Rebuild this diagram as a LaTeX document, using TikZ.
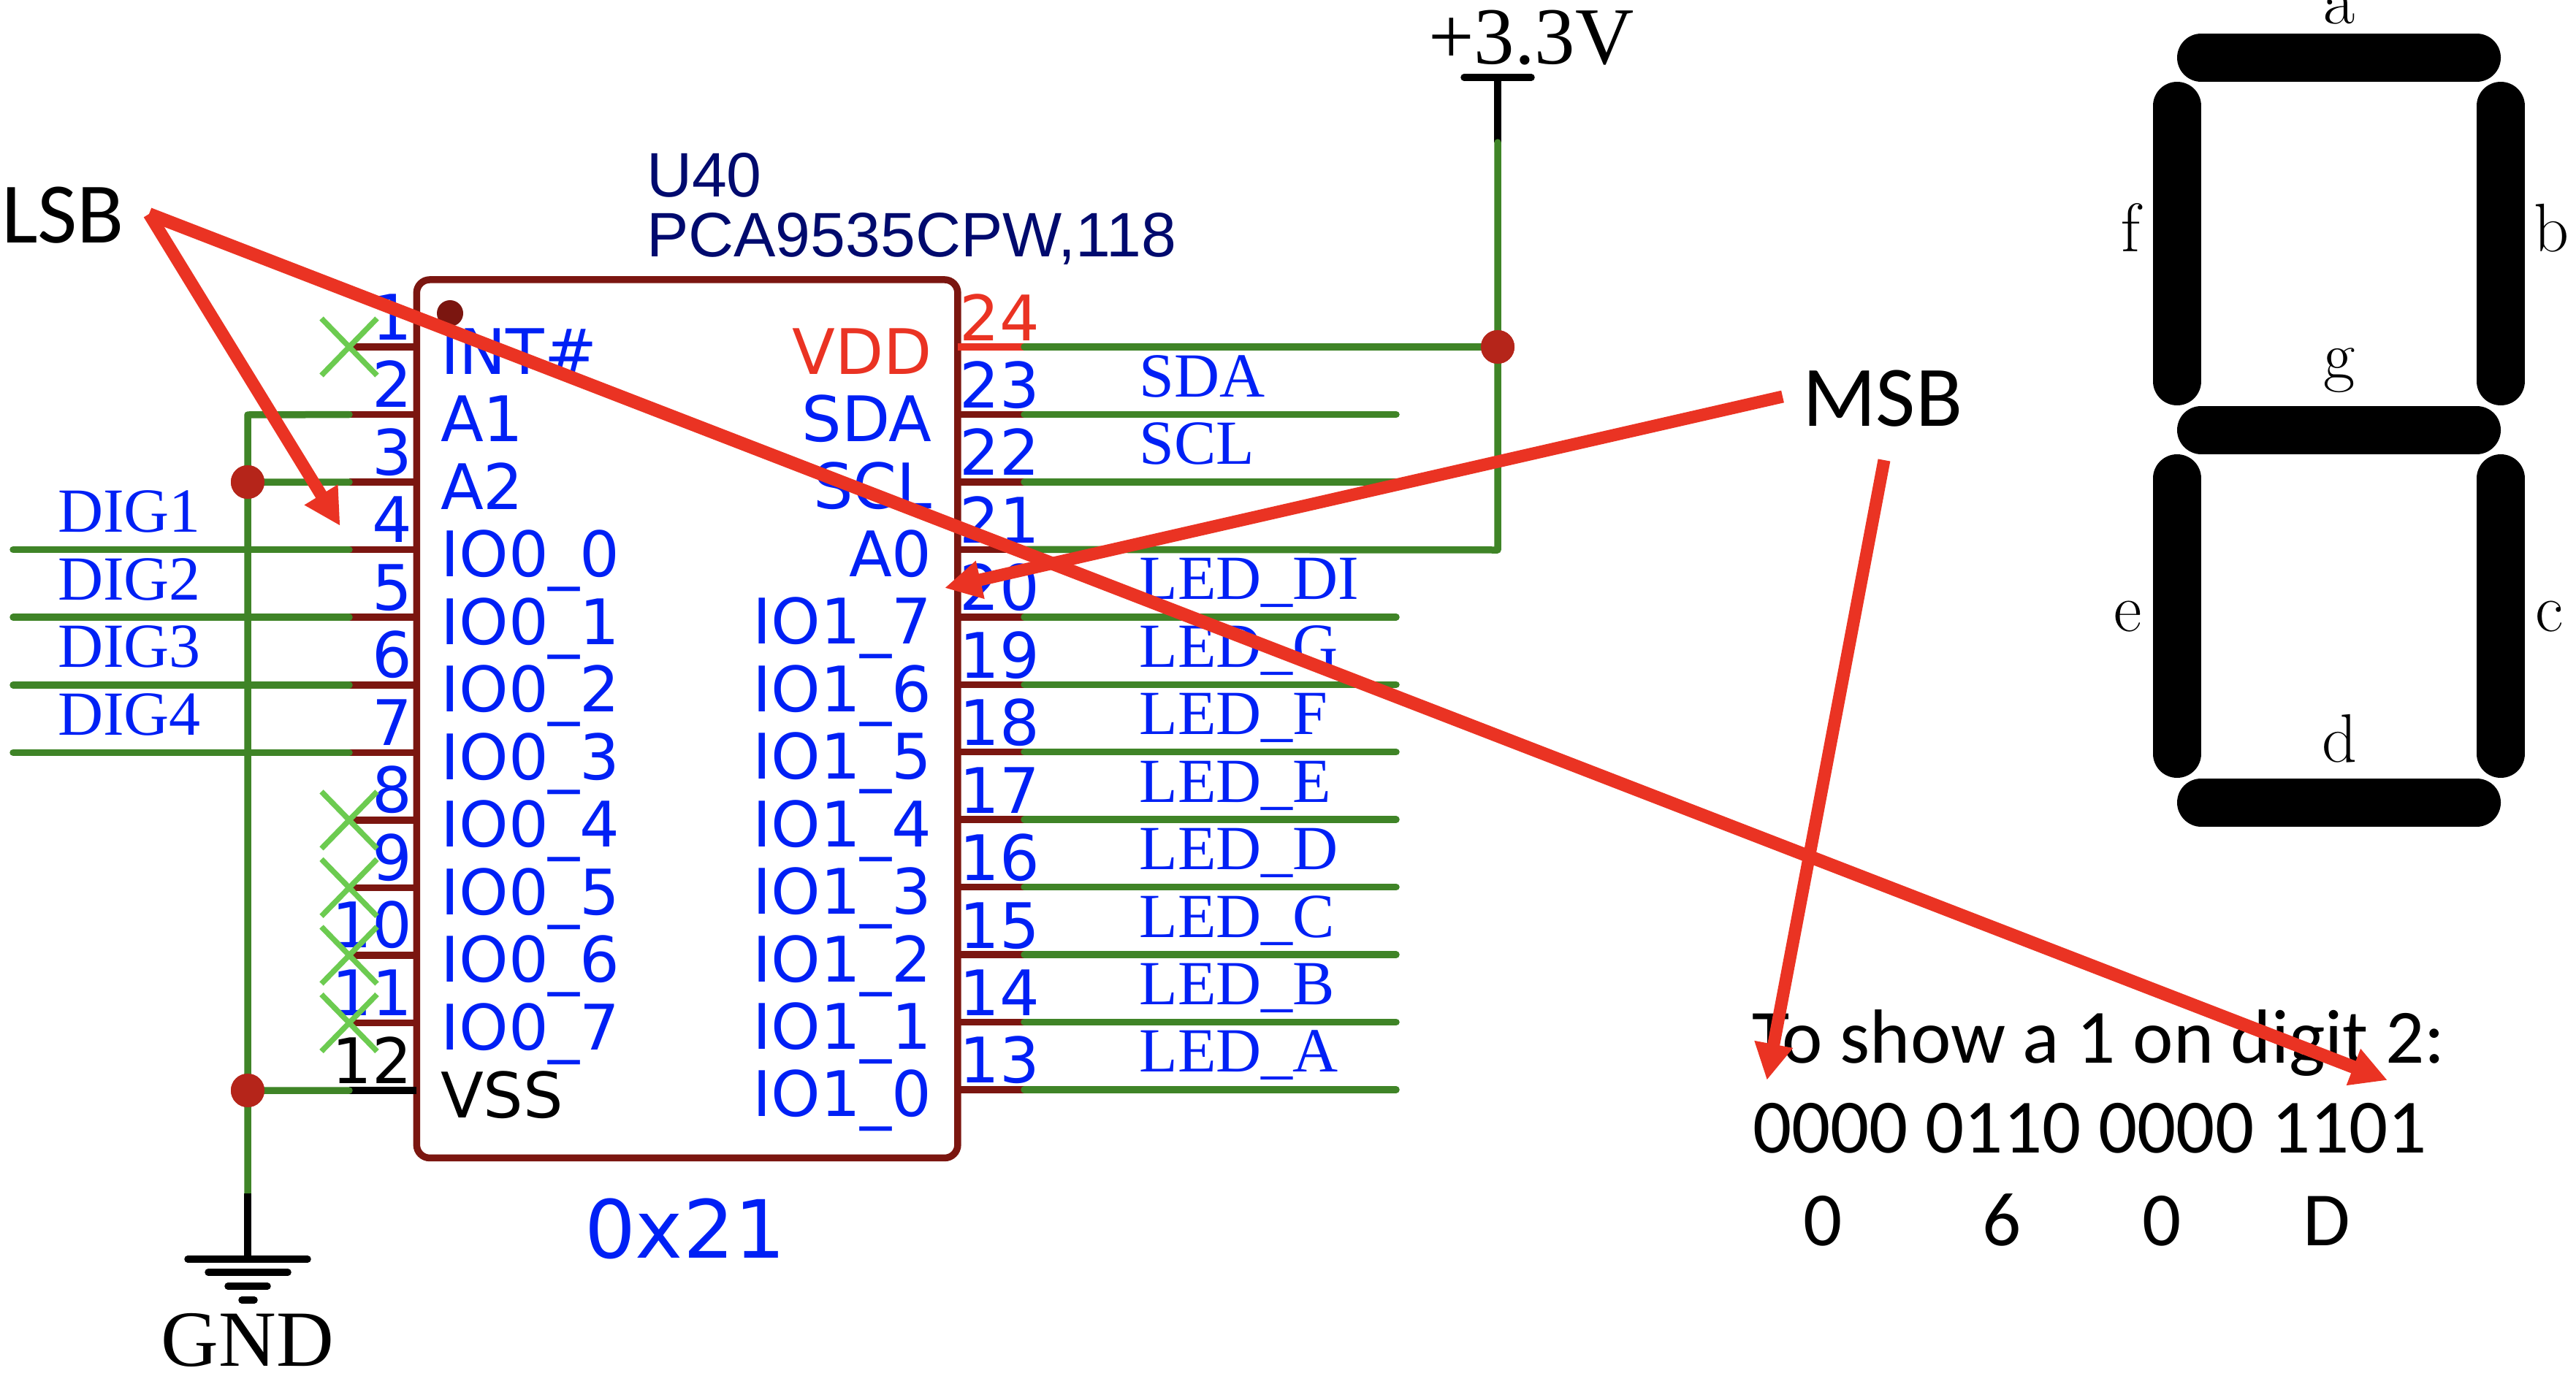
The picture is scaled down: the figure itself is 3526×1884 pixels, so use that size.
\documentclass[tikz,border=0pt]{standalone}
\usepackage{fontspec}
\usetikzlibrary{arrows.meta,calc}
\newfontfamily\schfont{DejaVu Sans}
\newfontfamily\netfont{Liberation Serif}
\newfontfamily\partfont{Liberation Sans}
\newfontfamily\notefont{Carlito}
\definecolor{pinblue}{HTML}{0020F5}
\definecolor{navyink}{HTML}{000A6E}
\definecolor{chipred}{HTML}{7B1610}
\definecolor{juncred}{HTML}{B5251A}
\definecolor{wiregreen}{HTML}{3F8427}
\definecolor{xgreen}{HTML}{6CCB50}
\definecolor{markred}{HTML}{EA3323}
\newcommand{\fs}[1]{\fontsize{#1}{#1}\selectfont}
\tikzset{
  txt/.style={inner sep=0pt,outer sep=0pt},
  sch/.style={txt,font=\schfont\fs{86}},
  net/.style={txt,font=\netfont\fs{86},text=pinblue,anchor=base west},
  part/.style={txt,font=\partfont\fs{86},text=navyink,anchor=base west},
  note/.style={txt,font=\notefont\fs{105},anchor=base west},
  notemid/.style={txt,font=\notefont\fs{105},anchor=base},
  call/.style={txt,font=\notefont\fs{118},anchor=base west},
  seglabel/.style={txt,font=\fs{94},anchor=base},
  pinstub/.style={draw=chipred,line width=9.5pt},
  wire/.style={draw=wiregreen,line width=9.5pt,line cap=round,line join=round},
  blackline/.style={draw=black,line width=9.5pt,line cap=round},
  junction/.style={circle,fill=juncred,inner sep=0pt,outer sep=0pt,minimum size=46pt},
  ncmark/.style={draw=xgreen,line width=7.5pt},
  seg/.style={draw=black,line width=66pt,line cap=round},
  redarrow/.style={draw=markred,line width=17pt,-{Triangle[length=50pt,width=50pt,sep=0pt,fill=markred]}}
}
\begin{document}
\begin{tikzpicture}[x=1pt,y=-1pt]
\useasboundingbox (0,0) rectangle (3526,1884);
% chip
\node[draw=chipred,line width=9.5pt,rounded corners=18pt,minimum width=740.6pt,minimum height=1202.5pt,inner sep=0pt,outer sep=0pt] (chip) at (940.6,984.2) {};
\node[circle,fill=chipred,inner sep=0pt,minimum size=36pt] (dot) at (616,429) {};
% pin coordinates
\foreach \n in {1,...,12}{
  \pgfmathsetmacro\py{475+92.55*(\n-1)}
  \coordinate (pL\n) at (570,\py);
  \coordinate (eL\n) at (478,\py);
  \coordinate (dL\n) at (18,\py);
}
\foreach \n in {13,...,24}{
  \pgfmathsetmacro\py{475+92.45*(24-\n)}
  \coordinate (pR\n) at (1310.6,\py);
  \coordinate (eR\n) at (1402,\py);
  \coordinate (wR\n) at (1911,\py);
}
\foreach \n in {1,...,11}{\draw[pinstub] (pL\n) -- (eL\n);}
\draw[pinstub,draw=black] (pL12) -- (eL12);
\foreach \n in {13,...,23}{\draw[pinstub] (pR\n) -- (eR\n);}
\draw[pinstub,draw=markred] (pR24) -- (eR24);
% left wires
\node[junction] (j1) at (339,660) {};
\node[junction] (j2) at (339,1493) {};
\coordinate (vtop) at (339,568);
\coordinate (vbot) at (339,1634);
\coordinate (gndtop) at (339,1724);
\draw[wire] (eL2) -- (vtop) -- (j1.center) -- (j2.center) -- (vbot);
\draw[wire] (eL3) -- (j1.center);
\draw[wire] (eL12) -- (j2.center);
\foreach \n in {4,5,6,7}{\draw[wire] (dL\n) -- (eL\n);}
\node[junction] at (j1) {};
\node[junction] at (j2) {};
\draw[draw=black,line width=9.5pt] (vbot) -- (gndtop);
\draw[blackline] (257,1724) -- (421,1724);
\draw[blackline] (285,1742) -- (394,1742);
\draw[blackline] (312,1761) -- (366,1761);
\draw[blackline] (331,1780) -- (348,1780);
\node[txt,font=\netfont\fs{109},anchor=base] (gnd) at (339,1870) {GND};
% supply
\coordinate (supbar) at (2050,106);
\coordinate (supg) at (2050,195);
\coordinate (supcorner) at (2050,753);
\node[junction] (j3) at (2050,475) {};
\draw[draw=black,line width=9.5pt] (supbar) -- (supg);
\draw[blackline] (2004,106) -- (2096,106);
\draw[wire] (supg) -- (j3.center) -- (supcorner) -- (eR21);
\draw[wire] (j3.center) -- (eR24);
\node[junction] at (j3) {};
\node[txt,font=\netfont\fs{111},anchor=base west] (v33) at (1955,88) {+3.3V};
% right wires
\foreach \n in {13,...,20,22,23}{\draw[wire] (eR\n) -- (wR\n);}
% chip pin names, left
\foreach \n/\t in {1/INT\#,2/A1,3/A2,4/IO0\_0,5/IO0\_1,6/IO0\_2,7/IO0\_3,8/IO0\_4,9/IO0\_5,10/IO0\_6,11/IO0\_7}{
  \node[sch,text=pinblue,anchor=base west] (nameL\n) at ($(pL\n)+(33,37)$) {\t};
  \node[sch,text=pinblue,anchor=base east] (numL\n) at ($(pL\n)+(-6,-10)$) {\n};
}
\node[sch,text=black,anchor=base west] (nameL12) at ($(pL12)+(33,37)$) {VSS};
\node[sch,text=black,anchor=base east] (numL12) at ($(pL12)+(-6,-10)$) {12};
% chip pin names, right
\foreach \n/\t in {23/SDA,22/SCL,21/A0,20/IO1\_7,19/IO1\_6,18/IO1\_5,17/IO1\_4,16/IO1\_3,15/IO1\_2,14/IO1\_1,13/IO1\_0}{
  \node[sch,text=pinblue,anchor=base east] (nameR\n) at ($(pR\n)+(-35,37)$) {\t};
  \node[sch,text=pinblue,anchor=base west] (numR\n) at ($(pR\n)+(3,-9)$) {\n};
}
\node[sch,text=markred,anchor=base east] (nameR24) at ($(pR24)+(-35,37)$) {VDD};
\node[sch,text=markred,anchor=base west] (numR24) at ($(pR24)+(3,-9)$) {24};
% part text
\node[part] (ref) at (885,269) {U40};
\node[part] (val) at (885,351) {PCA9535CPW,118};
\node[sch,font=\schfont\fs{110},text=pinblue,anchor=base west] (addr) at (800,1722) {0x21};
% net labels
\foreach \n/\t in {4/DIG1,5/DIG2,6/DIG3,7/DIG4}{
  \node[net] (netL\n) at ($(pL\n)+(-491,-24)$) {\t};
}
\foreach \n/\t in {23/SDA,22/SCL,20/LED\_DI,19/LED\_G,18/LED\_F,17/LED\_E,16/LED\_D,15/LED\_C,14/LED\_B,13/LED\_A}{
  \node[net] (netR\n) at ($(pR\n)+(249,-24)$) {\t};
}
% no-connect marks
\foreach \n in {1,8,9,10,11}{
  \draw[ncmark] ($(eL\n)+(-38,-39)$) -- ($(eL\n)+(38,39)$);
  \draw[ncmark] ($(eL\n)+(-38,39)$) -- ($(eL\n)+(38,-39)$);
}
% seven segments
\draw[seg] (3013,79) -- (3390,79);
\draw[seg] (3013,588.5) -- (3390,588.5);
\draw[seg] (3013,1098.5) -- (3390,1098.5);
\draw[seg] (2980,145) -- (2980,522);
\draw[seg] (3423,145) -- (3423,522);
\draw[seg] (2980,655) -- (2980,1032);
\draw[seg] (3423,655) -- (3423,1032);
\node[seglabel] (sega) at (3202,33) {a};
\node[seglabel] (segb) at (3492,344) {b};
\node[seglabel] (segc) at (3490,864) {c};
\node[seglabel] (segd) at (3202,1043) {d};
\node[seglabel] (sege) at (2913,864) {e};
\node[seglabel] (segf) at (2916,344) {f};
\node[seglabel] (segg) at (3202,518) {g};
% notes
\node[note] (n1) at (2398,1455) {To show a 1 on digit 2:};
\node[note] (n2) at (2399,1578) {0000 0110 0000 1101};
\node[notemid] (h1) at (2495,1705) {0};
\node[notemid] (h2) at (2740,1705) {6};
\node[notemid] (h3) at (2959,1705) {0};
\node[notemid] (h4) at (3185,1705) {D};
\node[call] (lsb) at (2,332) {LSB};
\node[call] (msb) at (2467,583) {MSB};
% red arrows
\coordinate (lsbtail) at (204,293);
\coordinate (lsbtipa) at (465.6,720);
\coordinate (lsbtipb) at (3268,1479);
\coordinate (msbtaila) at (2440,543);
\coordinate (msbtipa) at (1293,805);
\coordinate (msbtailb) at (2579,630);
\coordinate (msbtipb) at (2418.5,1479);
\draw[redarrow] (lsbtail) -- (lsbtipa);
\draw[redarrow,line width=18pt] (lsbtail) -- (lsbtipb);
\draw[redarrow] (msbtaila) -- (msbtipa);
\draw[redarrow] (msbtailb) -- (msbtipb);
\end{tikzpicture}
\end{document}
